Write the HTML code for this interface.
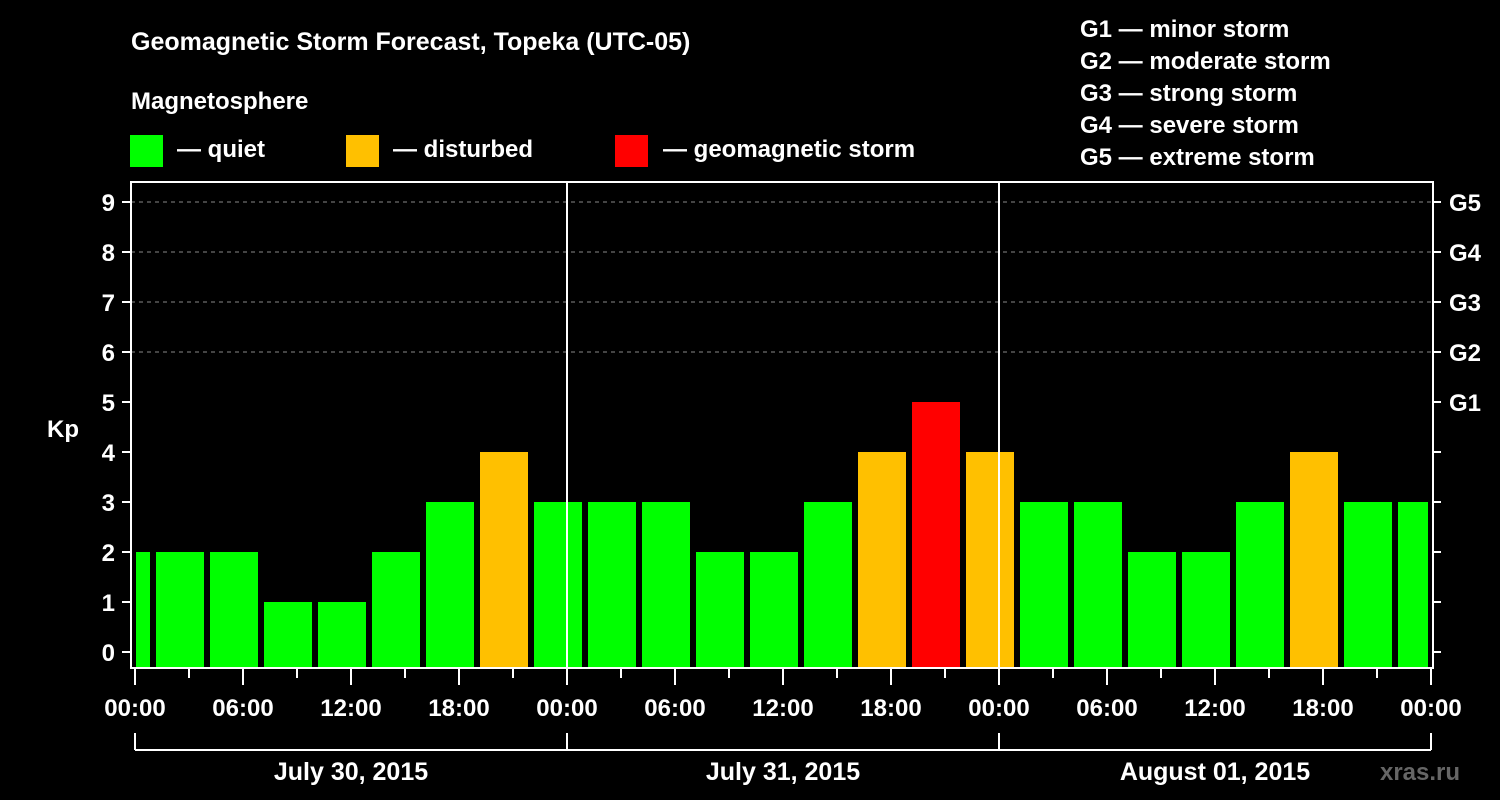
<!DOCTYPE html>
<html><head><meta charset="utf-8"><style>
html,body{margin:0;padding:0;background:#000;width:1500px;height:800px;overflow:hidden}
text{font-family:"Liberation Sans",Arial,sans-serif;font-weight:bold;fill:#fff}
</style></head><body>
<svg id="c" width="1500" height="800" xmlns="http://www.w3.org/2000/svg">
<text x="131" y="50" font-size="25">Geomagnetic Storm Forecast, Topeka (UTC-05)</text>
<text x="131" y="109" font-size="24">Magnetosphere</text>
<g><rect x="130" y="135" width="33" height="32" fill="#00ff00"/><text x="177" y="157" font-size="24">— quiet</text></g>
<g><rect x="346" y="135" width="33" height="32" fill="#ffc000"/><text x="393" y="157" font-size="24">— disturbed</text></g>
<g><rect x="615" y="135" width="33" height="32" fill="#ff0000"/><text x="663" y="157" font-size="24">— geomagnetic storm</text></g>
<g font-size="24">
<text x="1080" y="37">G1 — minor storm</text>
<text x="1080" y="69">G2 — moderate storm</text>
<text x="1080" y="101">G3 — strong storm</text>
<text x="1080" y="133">G4 — severe storm</text>
<text x="1080" y="165">G5 — extreme storm</text>
</g>
<text x="63" y="437" font-size="24" text-anchor="middle">Kp</text>
<text x="1420" y="780" font-size="24" fill="#555" style="fill:#666" text-anchor="middle">xras.ru</text>
<g id="g"></g>
</svg>
<script>
const kpValues=[2,2,2,1,1,2,3,4,3,3,3,2,2,3,4,5,4,3,3,2,2,3,4,3,3];
const startHour=-2; // first bar start (local hours from first midnight)
const yTicks=[0,1,2,3,4,5,6,7,8,9];
const gLabels=["G1","G2","G3","G4","G5"];
const gLevels=[5,6,7,8,9];
const xTickLabels=["00:00","06:00","12:00","18:00","00:00","06:00","12:00","18:00","00:00","06:00","12:00","18:00","00:00"];
const dayLabels=["July 30, 2015","July 31, 2015","August 01, 2015"];
const NS="http://www.w3.org/2000/svg";
const g=document.getElementById('g');
const X0=135,PXH=18,Y0=652,PXK=50,L=131,R=1433,T=182,B=668;
const xs=h=>X0+h*PXH, ys=k=>Y0-k*PXK;
function el(t,a,p){const e=document.createElementNS(NS,t);for(const k in a)e.setAttribute(k,a[k]);(p||g).appendChild(e);return e;}
// grid
gLevels.forEach(k=>{if(k>5){const e=el('line',{x1:L,x2:R,y1:ys(k),y2:ys(k),stroke:'#888','stroke-dasharray':'4,4','stroke-width':1});

}});
// bars
kpValues.forEach((v,i)=>{
 const s=startHour+i*3;let x1=xs(s)+3,x2=xs(s+3)-3;
 x1=Math.max(x1,L+5);x2=Math.min(x2,R-5);
 const col=v>=5?'#ff0000':(v>=4?'#ffc000':'#00ff00');
 const r=el('rect',{x:x1,y:ys(v),width:x2-x1,height:B-ys(v),fill:col});
 
 
});
// midnight lines
[1,2].forEach(d=>{const e=el('line',{x1:xs(d*24),x2:xs(d*24),y1:T,y2:B,stroke:'#fff','stroke-width':2});

});
// frame
const f=el('rect',{x:L,y:T,width:R-L,height:B-T,fill:'none',stroke:'#fff','stroke-width':2});


// y ticks
yTicks.forEach(k=>{
 el('line',{x1:L-9,x2:L,y1:ys(k),y2:ys(k),stroke:'#fff','stroke-width':2});
 el('line',{x1:R,x2:R+8,y1:ys(k),y2:ys(k),stroke:'#fff','stroke-width':2});
 const t=el('text',{x:L-16,y:ys(k)+9,'font-size':24,'text-anchor':'end'});t.textContent=k;
 
 
});
gLabels.forEach((s,i)=>{const t=el('text',{x:R+16,y:ys(gLevels[i])+9,'font-size':24});t.textContent=s;
 
 });
// x ticks
for(let h=0;h<=72;h+=3){const major=h%6===0;el('line',{x1:xs(h),x2:xs(h),y1:B,y2:B+(major?17:10),stroke:'#fff','stroke-width':2});}
xTickLabels.forEach((s,i)=>{const t=el('text',{x:xs(i*6),y:716,'font-size':24,'text-anchor':'middle'});t.textContent=s;
 
 });
// day brackets
el('line',{x1:xs(0),x2:xs(72),y1:750,y2:750,stroke:'#fff','stroke-width':2});
[0,1,2,3].forEach(d=>el('line',{x1:xs(d*24),x2:xs(d*24),y1:733,y2:750,stroke:'#fff','stroke-width':2}));
dayLabels.forEach((s,i)=>{const t=el('text',{x:xs(i*24+12),y:780,'font-size':25,'text-anchor':'middle'});t.textContent=s;
 
 });
</script>
</body></html>
